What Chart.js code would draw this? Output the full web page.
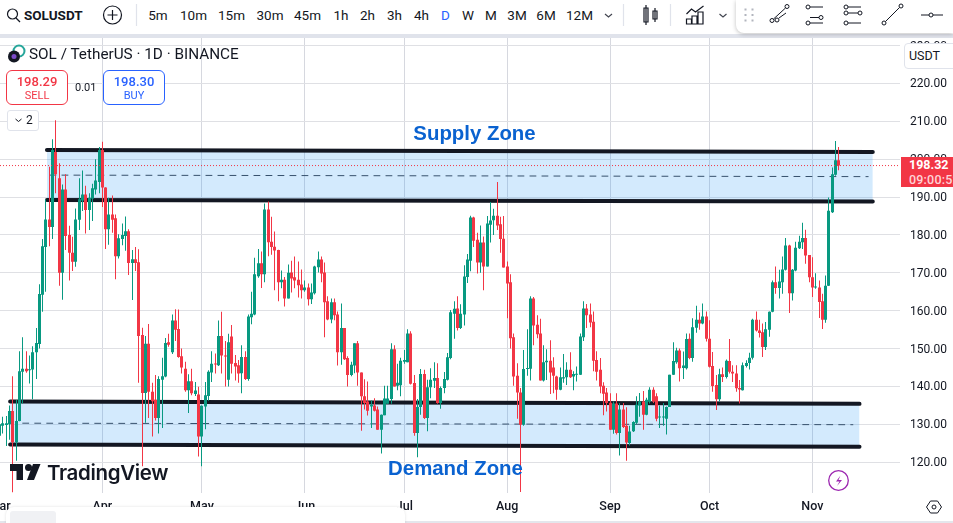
<!DOCTYPE html>
<html>
<head>
<meta charset="utf-8">
<title>SOLUSDT</title>
<script src="https://cdn.jsdelivr.net/npm/chart.js@4"></script>
<style>
    html, body { margin: 0; padding: 0; background: #fff; overflow: hidden; }
    body { width: 953px; height: 523px; position: relative; font-family: Roboto, sans-serif; color: #131722; }
    #chart { position: absolute; left: 0; top: 0; }
    .abs { position: absolute; white-space: nowrap; }
    .tf { position: absolute; top: 7px; font-size: 13.5px; line-height: 17px; transform: translateX(-50%); }
    .zone { font: bold 20.4px "Liberation Sans", sans-serif; color: #0a62d0; transform: translateX(-50%); }
    svg { position: absolute; overflow: visible; }
</style>
</head>
<body>
<canvas id="chart" width="953" height="523"></canvas>

<!-- top toolbar -->
<div class="abs" style="left:0;top:0;width:953px;height:34px;background:#fff"></div>
<div class="abs" style="left:0;top:34px;width:953px;height:4px;background:#e0e3eb"></div>
<svg style="left:0;top:0" width="953" height="34" fill="none" stroke="#131722" stroke-width="1.2">
    <circle cx="12.5" cy="14" r="5"/><path d="M16 18l4 4"/>
    <circle cx="112.5" cy="15" r="9"/><path d="M112.5 10v10M107.5 15h10"/>
    <path d="M136.5 4v22M623.5 4v22M670.5 4v22" stroke="#e0e3eb"/>
    <path d="M605 14l3.500 3 3.500-3M719.500 14l3.500 3 3.500-3" stroke="#434651"/>
    <path d="M644 8h4v14h-4zM646 5v20M653 11h4v8h-4zM655 8v14"/>
    <path d="M686.500 14l5-5 4 3 8-6M686.500 24v-5h5v5zM692 24v-8h5v8zM698 24v-12h5v12z"/>
</svg>
<div class="abs" style="left:24px;top:6px;font-size:13.5px;line-height:18px;font-weight:700">SOLUSDT</div>
<div class="tf" style="left:158px">5m</div>
<div class="tf" style="left:193.500px">10m</div>
<div class="tf" style="left:231.500px">15m</div>
<div class="tf" style="left:270px">30m</div>
<div class="tf" style="left:307.500px">45m</div>
<div class="tf" style="left:341px">1h</div>
<div class="tf" style="left:367.500px">2h</div>
<div class="tf" style="left:394.500px">3h</div>
<div class="tf" style="left:421.500px">4h</div>
<div class="tf" style="left:445.500px;color:#2962ff">D</div>
<div class="tf" style="left:468px">W</div>
<div class="tf" style="left:491px">M</div>
<div class="tf" style="left:517px">3M</div>
<div class="tf" style="left:546px">6M</div>
<div class="tf" style="left:579.500px">12M</div>

<!-- floating drawing toolbar -->
<div class="abs" style="left:736px;top:0;width:217px;height:33px;background:#fff;border-bottom-left-radius:8px;box-shadow:0 1px 4px rgba(0,0,0,.25)"></div>
<svg style="left:736px;top:0" width="217" height="34" fill="none" stroke="#131722" stroke-width="1">
    <path d="M8.500 9.500h2M15.500 9.500h2M8.500 15h2M15.500 15h2M8.500 20.500h2M15.500 20.500h2" stroke="#b2b5be" stroke-width="2"/>
    <circle cx="36" cy="20.500" r="2"/><circle cx="51" cy="6.500" r="2"/><circle cx="41" cy="20" r="2"/>
    <path d="M37.500 19L49.500 8M43 18l7-5"/>
    <circle cx="72" cy="7" r="2"/><circle cx="72" cy="23" r="2"/><circle cx="85" cy="17.500" r="2"/>
    <path d="M74 7h13M74 23h13M74 17.500h9"/>
    <circle cx="110" cy="7" r="2"/><circle cx="110" cy="13" r="2"/><circle cx="110" cy="23" r="2"/><circle cx="124" cy="13" r="2"/>
    <path d="M112 7h13M112 13h10M112 23h13"/>
    <circle cx="148" cy="23" r="2"/><circle cx="165" cy="6" r="2"/><path d="M149.500 21.500L163.500 7.500"/>
    <circle cx="195" cy="15" r="2"/><path d="M185 15h8M197 15h10"/>
</svg>

<!-- chart legend -->
<svg style="left:7px;top:45px" width="18" height="18">
    <circle cx="12" cy="6" r="5.500" fill="none" stroke="#26a69a" stroke-width="2"/>
    <circle cx="7" cy="11.500" r="6" fill="#131722"/><circle cx="7" cy="11.500" r="2.500" fill="#7b4bc9"/>
</svg>
<div class="abs" style="left:29px;top:45px;font-size:15.300px;line-height:19px">SOL / TetherUS · 1D · BINANCE</div>
<div class="abs" style="left:6px;top:70px;width:60px;height:33px;border:1px solid #f23645;border-radius:6px;background:#fff;text-align:center;color:#f23645">
    <div style="font-size:13px;line-height:15px;margin-top:3px;font-weight:500">198.29</div><div style="font-size:11px;line-height:13px">SELL</div>
</div>
<div class="abs" style="left:75px;top:81px;font-size:11px;line-height:13px;color:#131722">0.01</div>
<div class="abs" style="left:103px;top:70px;width:60px;height:33px;border:1px solid #2962ff;border-radius:6px;background:#fff;text-align:center;color:#2962ff">
    <div style="font-size:13px;line-height:15px;margin-top:3px;font-weight:500">198.30</div><div style="font-size:11px;line-height:13px">BUY</div>
</div>
<div class="abs" style="left:7px;top:110px;width:30px;height:19px;border:1px solid #e0e3eb;border-radius:3px;background:#fff"></div>
<svg style="left:7px;top:110px" width="32" height="21" fill="none" stroke="#131722"><path d="M8.500 9l3 2.500 3-2.500"/></svg>
<div class="abs" style="left:26px;top:112px;font-size:12px;line-height:16px">2</div>

<!-- zone captions -->
<div class="abs zone" style="left:474.500px;top:122px">Supply Zone</div>
<div class="abs zone" style="left:455.500px;top:457px">Demand Zone</div>

<!-- watermark -->
<svg style="left:10px;top:464px" width="36" height="16" viewBox="0 0 36 16" fill="#131722">
    <path d="M0 0h13v16H6.500V7H0zM23 0h7.500L24 16h-7z"/><circle cx="18.500" cy="3.500" r="3.500"/>
</svg>
<div class="abs" style="left:47px;top:460px;font:600 20.500px/26px Inter, sans-serif;letter-spacing:-.35px">TradingView</div>

<!-- price axis widgets -->
<div class="abs" style="left:904px;top:43px;width:60px;height:24px;border:1px solid #e0e3eb;border-radius:4px;background:#fff;font-size:12.500px;line-height:24px;text-indent:4px">USDT</div>
<div class="abs" style="left:901px;top:157px;width:52px;height:30px;box-sizing:border-box;padding-left:8px;overflow:hidden;background:#f23645;color:#fff;font-size:12.500px;line-height:15px;font-weight:700">198.32<br><span style="color:#ffd3d7;font-weight:500;letter-spacing:.2px">09:00:52</span></div>

<!-- bottom bar bits -->
<svg style="left:828px;top:470px" width="22" height="22" fill="none" stroke="#9c27b0" stroke-width="1.300">
    <circle cx="10.500" cy="10.500" r="9.800"/><path d="M12.500 5.500l-4.500 6h3.500l-2.500 4.500 5-6h-3.500z" fill="#9c27b0" stroke="none"/>
</svg>
<svg style="left:925px;top:499px" width="18" height="16" fill="none" stroke="#131722">
    <path d="M1.500 8l4-6h7l4 6-4 6h-7z"/><circle cx="9" cy="8" r="2"/>
</svg>
<div class="abs" style="left:0;top:521px;width:953px;height:2px;background:#e4e6ec"></div>
<div class="abs" style="left:6px;top:507px;width:399px;height:18px;background:#fff;border-radius:8px 8px 0 0;box-shadow:0 0 3px rgba(0,0,0,.12)"></div>
<div class="abs" style="left:10px;top:511px;width:46px;height:14px;background:#f0f1f4;border-radius:3px"></div>

<script>
// Daily SOL/USDT candles, one entry per day starting 1 March
const opens = [
    127, 129.6, 129.8, 130, 133.5, 125.3, 130.9, 143.9, 144.7, 144.3,
    144.5, 149, 151.2, 164.2, 176.8, 184.1, 182.1, 201.9, 195, 170,
    192, 180, 175.3, 172.9, 184, 189.1, 190.7, 186.6, 189.6, 192,
    194, 202.4, 192.5, 181.5, 185.4, 184.4, 174.4, 178.9, 179.7, 181,
    172.6, 173.6, 172.8, 153.6, 138.3, 151.3, 138.6, 136.5, 131.7, 141.8,
    142.6, 151.7, 149, 157.4, 155.2, 148, 144.7, 139, 141.4, 138,
    137.9, 126.8, 134.7, 137.5, 143.7, 146, 145.6, 153.3, 148.2, 141.8,
    153.2, 146.2, 145.6, 143.5, 147.8, 142, 158.3, 159, 169.1, 172.5,
    169.6, 186.7, 178.2, 176.9, 176, 167.5, 168.2, 163.2, 170.1, 168.8,
    168.2, 166.9, 165.4, 166.1, 163, 164.6, 171.5, 173.5, 170.1, 162.5,
    157.7, 162.2, 159, 149, 155.4, 147.5, 143, 145.5, 151.4, 143.7,
    137.4, 136, 134.7, 135, 133.9, 128.6, 132.4, 135.4, 136.7, 149.8,
    140.2, 140.3, 146.5, 146.4, 154, 140.9, 127.7, 134.6, 143.3, 131.7,
    139.8, 141.5, 142.2, 135.6, 139.6, 141.8, 147.5, 159.2, 160.6, 155.4,
    159, 168.9, 173.2, 184.6, 178.7, 172.7, 178, 171.7, 182.7, 183.9,
    185.1, 182.8, 179, 171.7, 167.5, 153, 142.8, 138.4, 129.9, 144.6,
    144.7, 163.2, 156.3, 154, 141.6, 146.4, 146.8, 145, 142.6, 139.1,
    142.1, 142.4, 144.4, 142.6, 143.1, 143.1, 153, 160.6, 159, 157.1,
    147, 144.4, 140.2, 138.4, 135.7, 128.6, 135.5, 127.7, 133.9, 129.6,
    125.1, 128.2, 130.4, 135, 136, 132.5, 136, 139.1, 137.4, 131.8,
    131.8, 131.5, 134.6, 143.1, 146.4, 149.5, 144.9, 144.8, 152.6, 147.5,
    155.5, 157.6, 156.6, 158.5, 152.6, 145.4, 140.4, 136.6, 143.2, 142.5,
    146.7, 143.9, 143.4, 139.6, 139, 145.4, 146.2, 147.6, 157.6, 154.8,
    154.3, 150.4, 155, 159.7, 167.5, 166, 167.5, 170.8, 177.2, 164.6,
    170.6, 176.5, 178.1, 179.2, 174.7, 168.8, 166.1, 166.1, 162.5, 157.6,
    166.6, 186, 195.9, 199.7
];
const highs = [
    131, 132, 132.2, 135, 142.7, 136.4, 149.3, 153, 149.3, 148.2,
    150.6, 155.4, 167, 178.9, 189.4, 198, 205.3, 210.3, 198.9, 193.3,
    196, 182.4, 179.5, 187, 195, 197, 193, 191, 193.5, 200,
    203.2, 204.6, 192.6, 189.8, 190.4, 185.4, 180.2, 183, 184.9, 181.5,
    176, 176.8, 176.2, 155.5, 153.3, 156.5, 141, 143, 142.7, 147.6,
    152.8, 153.9, 159, 160.4, 160.3, 150, 146.5, 143.2, 144.7, 141.2,
    139.9, 135, 141.2, 144.3, 149.3, 148.7, 157.4, 159.7, 152, 153.9,
    156.2, 148.3, 147, 150.9, 149.3, 159, 165, 174, 176.3, 175.6,
    188.3, 188.8, 184.8, 180.9, 176.1, 170.6, 168.9, 172.2, 173.2, 174.3,
    173, 170.9, 168, 167.2, 167.2, 171.9, 175.6, 174.3, 172.7, 163.8,
    163.2, 163.2, 159.8, 161.9, 155.4, 148, 146.5, 151.4, 152, 143.7,
    141.9, 141.3, 136.3, 136.9, 134.7, 132.6, 140.2, 140.2, 151.4, 150.9,
    146, 147.6, 149.6, 155.1, 154.6, 143, 136.7, 144.6, 144.4, 141.8,
    144.8, 146.4, 146.1, 140, 143.8, 148.8, 160.2, 162.5, 163.8, 161.7,
    172, 175, 185.1, 184.8, 180.6, 182.5, 179.6, 185, 188.7, 186.9,
    194, 184.8, 185, 173, 169.6, 154, 146.1, 139.6, 149.6, 155.1,
    163.8, 163.6, 158.8, 157.9, 150.9, 149.8, 152.2, 147.7, 142.8, 145,
    148.6, 146.4, 149, 144, 145.3, 154, 162.5, 161.8, 161.9, 159.8,
    149.3, 147.5, 141.1, 139.6, 138.2, 136, 138.2, 135.6, 135.6, 134.5,
    129.6, 130.8, 137.4, 138.3, 138.8, 137, 139.8, 139.8, 138.2, 135,
    135.6, 134.7, 143.1, 151.7, 150.2, 150, 149.2, 154, 154, 158,
    161.3, 159.5, 161.9, 159.8, 157.5, 149.1, 143, 144.7, 145, 147.1,
    152.5, 145.6, 145.6, 141.7, 146.3, 146.9, 148.9, 157.9, 159.8, 157.6,
    156.6, 157, 159.8, 168, 171.7, 170.8, 174.3, 179.2, 177.4, 171,
    178.2, 179.8, 183.2, 181.4, 174.7, 174.1, 169.9, 168, 164.5, 169.3,
    189.9, 197.8, 204.8, 203.2
];
const lows = [
    125.6, 127.6, 124.3, 125.9, 112, 120.4, 130.8, 135.5, 143.6, 140.8,
    136.6, 142, 150, 159.7, 165, 177, 178.9, 191, 166.6, 162.9,
    176, 168, 170.5, 171.6, 181.3, 186.3, 180.4, 181.3, 183.7, 190.7,
    191, 187.4, 176.3, 177.4, 180.6, 168.3, 173.8, 177.3, 175.8, 169.4,
    162.8, 170.5, 141, 118.9, 130.4, 131.7, 126.8, 131, 127.6, 129,
    142.4, 150.5, 148.6, 152, 147.6, 143.4, 138.6, 133, 137.7, 137.5,
    121.5, 118.9, 128.7, 136.2, 141.2, 143.4, 145.4, 143.4, 140, 140,
    143.4, 141.6, 141, 138.2, 141.7, 141.5, 156.4, 158.8, 168.7, 166,
    167.5, 174.4, 174.8, 165.4, 162.5, 165.9, 161.1, 163.2, 164.8, 165.9,
    163.5, 163.2, 165, 161.4, 161.8, 164.3, 170.1, 167.5, 153, 157.5,
    156.7, 157.5, 145.5, 145.7, 147, 140, 142.7, 143.5, 140.2, 128.3,
    133.9, 132.3, 129, 133.4, 128.6, 122.3, 132.4, 135.4, 135.4, 140,
    139, 137.4, 146, 146.4, 140.5, 127, 121.3, 132.5, 131.4, 128.2,
    136.9, 139.6, 135.4, 134.1, 138.2, 141.6, 147.2, 152.6, 154.8, 155.2,
    156.1, 167.3, 170.4, 176.8, 169.8, 170, 165.4, 171.7, 178, 180,
    181.3, 175.3, 171.4, 158, 150, 140.2, 131.5, 112.1, 129.6, 142.8,
    141.6, 150.9, 152.7, 141.6, 141.3, 141.7, 138, 138.2, 136.5, 139,
    141, 140.4, 142.2, 139, 141.3, 143, 152, 155.4, 155.6, 144,
    141.6, 138.2, 132.4, 133.4, 128.6, 127.5, 127.3, 121.8, 129, 120.4,
    124.4, 128, 130, 132, 128.6, 132.4, 135.5, 135.6, 130.8, 129,
    129.6, 127.3, 134.6, 143, 146, 141.3, 142, 144.5, 147.2, 146.5,
    154.2, 155, 156.4, 151.9, 145, 138.6, 133.8, 136, 141.2, 142.1,
    143.4, 141.2, 138.6, 135.5, 138.9, 145, 144.5, 147.1, 154.5, 152.9,
    147.8, 149.6, 153.1, 159.6, 164.5, 163.2, 164.5, 170.6, 159.4, 162.7,
    170.4, 176.3, 176.3, 172.4, 167.5, 163.6, 165.8, 158.1, 155.2, 156.8,
    166.5, 185.8, 195.6, 197.1
];
const closes = [
    130, 130.3, 130.3, 133.5, 125.3, 130.9, 144, 144.7, 144, 144.5,
    149, 151.5, 164.4, 177, 184.1, 182.1, 202.4, 196, 170, 192,
    179.7, 175.3, 172.9, 184.1, 189.4, 190.7, 186.6, 189.8, 192.3, 194.4,
    202.4, 192.5, 181.5, 185.4, 184, 174.4, 179.1, 180, 181, 172.6,
    173.6, 172.6, 153.3, 138.3, 151.3, 138.6, 136.1, 131.7, 142, 142.7,
    151.5, 151, 157.4, 155, 147.8, 145, 139, 141.4, 138.2, 138.9,
    126.8, 134.9, 137.7, 143.9, 146, 145.8, 153.3, 148.2, 147.9, 151.7,
    146, 145.3, 143.4, 147.8, 142, 158.5, 159.2, 169.6, 172.5, 169.6,
    186.7, 178.1, 176.8, 175.9, 167.5, 168.2, 163.2, 170, 168.5, 168,
    166.7, 165.4, 166.1, 163, 164.8, 171.7, 173.5, 169.8, 162.2, 157.7,
    162.2, 158.8, 149, 155.4, 147.2, 143, 145.7, 151.4, 143.7, 137.4,
    135.6, 133.6, 135.2, 133.6, 128.6, 132.5, 136.8, 136.8, 149.8, 140,
    141, 146.8, 147, 154, 140.7, 127.7, 134.6, 143.3, 131.7, 139.8,
    141.8, 142.2, 135.6, 139.6, 142, 147.7, 159.6, 160.5, 155.4, 159.2,
    169, 173.5, 184.6, 178.5, 172.7, 178, 171.7, 183, 183.8, 185.1,
    182.5, 178.9, 171.4, 167.2, 152.7, 142.6, 138.4, 129.9, 144.6, 144.9,
    163.2, 156.1, 153.8, 141.6, 146.4, 146.8, 143.7, 142.8, 139.1, 142.4,
    142.4, 144.4, 142.4, 143.3, 143.3, 153.2, 160.6, 158.8, 156.9, 146.8,
    143.9, 140, 138.1, 135.6, 128.6, 135.5, 127.7, 133.9, 129.3, 125.2,
    128.1, 130.6, 135.2, 136, 132.5, 136.5, 139.1, 136, 131.5, 131.9,
    131.9, 134.6, 143.1, 146.7, 149.5, 144.8, 145.5, 152.5, 147.5, 155.6,
    157.6, 156.6, 158.5, 152.6, 145.2, 140.1, 136.6, 143.2, 142.5, 146.8,
    143.9, 143.4, 139.5, 139.2, 145.6, 146.2, 147.6, 157.6, 154.8, 154.1,
    150.4, 155.1, 159.7, 167.5, 166, 167.7, 170.9, 177.2, 164.6, 170.8,
    176.6, 178.2, 179.2, 174.6, 168.8, 166.1, 166.2, 162.3, 157.6, 166.6,
    186.4, 196, 199.7, 198.32
];

// Month labels of the time axis and the candle each month starts at
const monthLabels = ['Mar', 'Apr', 'May', 'Jun', 'Jul', 'Aug', 'Sep', 'Oct', 'Nov'];
const monthStarts = [0, 31, 61, 92, 122, 153, 184, 214, 245];
const priceTicks = [120, 130, 140, 150, 160, 170, 180, 190, 200, 210, 220, 230];

// Drawn levels: [day, price] at each end of the line
const supplyTop = [[14.3, 202.4], [263.2, 201.9]];
const supplyBottom = [[14.3, 189.2], [263.2, 188.8]];
const supplyMid = [[15.2, 195.8], [261.8, 195.4]];
const demandTop = [[3.2, 136], [259.2, 135.4]];
const demandBottom = [[3.2, 124.7], [259.2, 124.1]];
const demandMid = [[7, 130.3], [257.2, 129.9]];

const lastPrice = 198.32;
const xMin = 0.15;
const xMax = 271.4;

const GREEN = '#089981';
const RED = '#f23645';
const BAND = 'rgba(33, 150, 243, 0.2)';

const toPoints = line => line.map(([x, y]) => ({ x, y }));

// Line through two points, optionally filled towards another dataset
function levelLine(line, extra) {
    return Object.assign({
        type: 'line',
        data: toPoints(line),
        borderColor: '#131722',
        borderWidth: 4,
        borderCapStyle: 'round',
        pointRadius: 0,
        order: 3,
        fill: false
    }, extra);
}

const colors = closes.map((c, i) => c >= opens[i] ? GREEN : RED);
const wickData = highs.map((h, i) => ({ x: i, y: [lows[i], h] }));
const bodyData = closes.map((c, i) => ({ x: i, y: [opens[i], c] }));

// Keep the candles on whole pixels, the way the original renders them
const snapCandles = {
    id: 'snapCandles',
    beforeDatasetsDraw(chart) {
        chart.getSortedVisibleDatasetMetas().forEach(meta => {
            if (meta.type !== 'bar') return;
            meta.data.forEach(el => { el.x = Math.floor(el.x) + 0.5; });
        });
    }
};

new Chart(document.getElementById('chart').getContext('2d'), {
    type: 'bar',
    plugins: [snapCandles],
    data: {
        datasets: [
            { type: 'bar', data: bodyData, backgroundColor: colors, barThickness: 3, minBarLength: 1, grouped: false, inflateAmount: 0, order: 1 },
            { type: 'bar', data: wickData, backgroundColor: colors, barThickness: 1, grouped: false, inflateAmount: 0, order: 2 },
            { type: 'line', data: [{ x: xMin, y: lastPrice }, { x: xMax, y: lastPrice }], borderColor: RED, borderWidth: 1, borderDash: [1, 2], pointRadius: 0, order: 0, fill: false },
            levelLine(supplyTop),
            levelLine(supplyBottom, { fill: { target: 3, above: BAND, below: BAND } }),
            levelLine(supplyMid, { borderWidth: 1, borderDash: [6, 6], borderColor: '#3b3f4a' }),
            levelLine(demandTop),
            levelLine(demandBottom, { fill: { target: 6, above: BAND, below: BAND } }),
            levelLine(demandMid, { borderWidth: 1, borderDash: [6, 6], borderColor: '#3b3f4a' })
        ]
    },
    options: {
        responsive: false,
        animation: false,
        layout: { padding: { top: 38, left: 0, right: 0, bottom: 0 } },
        plugins: { legend: { display: false }, tooltip: { enabled: false } },
        scales: {
            x: {
                type: 'linear',
                offset: false,
                min: xMin,
                max: xMax,
                afterBuildTicks(scale) {
                    scale.ticks = monthStarts.map(value => ({ value }));
                },
                afterFit(scale) {
                    scale.height = 30.5;
                    // the first label hangs off the left edge, as in the original
                    scale.paddingLeft = 0;
                    scale.paddingRight = 0;
                },
                grid: { color: '#d6d8df', drawTicks: false, offset: false },
                border: { display: false },
                ticks: {
                    autoSkip: false,
                    maxRotation: 0,
                    padding: 7,
                    color: '#131722',
                    font: { family: 'Roboto', size: 12.5, weight: '500' },
                    callback(value) { return monthLabels[monthStarts.indexOf(value)]; }
                }
            },
            y: {
                position: 'right',
                min: 112,
                max: 232,
                afterBuildTicks(scale) {
                    scale.ticks = priceTicks.map(value => ({ value }));
                },
                afterFit(scale) {
                    scale.width = 53;
                    scale.paddingTop = 0;
                    scale.paddingBottom = 0;
                },
                grid: { color: '#dfe0e4', drawTicks: false },
                border: { display: false },
                ticks: {
                    padding: 10,
                    labelOffset: 1,
                    color: '#131722',
                    font: { family: 'Roboto', size: 12 },
                    callback(value) { return value.toFixed(2); }
                }
            }
        }
    }
});
</script>
</body>
</html>
